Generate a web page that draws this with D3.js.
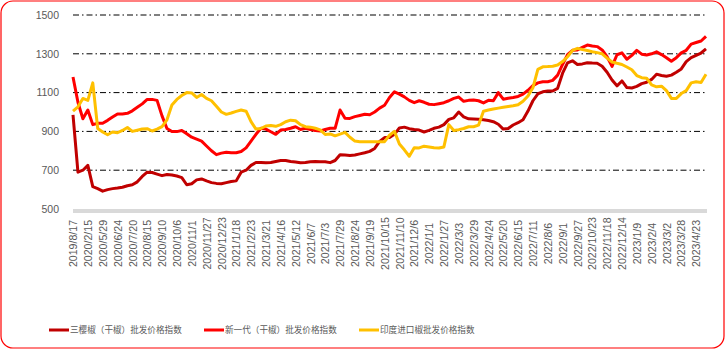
<!DOCTYPE html>
<html><head><meta charset="utf-8">
<script src="https://cdn.jsdelivr.net/npm/d3@7"></script>
<style>body{margin:0;background:#fff}svg{display:block}</style>
</head><body>
<svg id="c" width="726" height="350"></svg>
<script>
const tickLabels = ["2019/8/17","2020/2/15","2020/5/29","2020/6/24","2020/7/20","2020/8/15","2020/9/10","2020/10/6","2020/11/1","2020/11/27","2020/12/23","2021/1/18","2021/2/23","2021/3/21","2021/4/16","2021/5/12","2021/6/7","2021/7/3","2021/7/29","2021/8/24","2021/9/19","2021/10/15","2021/11/10","2021/12/6","2022/1/1","2022/1/27","2022/3/3","2022/3/29","2022/4/24","2022/5/20","2022/6/15","2022/7/11","2022/8/6","2022/9/1","2022/9/27","2022/10/23","2022/11/18","2022/12/14","2023/1/9","2023/2/4","2023/3/2","2023/3/28","2023/4/23"];
const pointsPerTick = 3;
const yTicks = [500,700,900,1100,1300,1500];
const seriesNames = ["三樱椒（干椒）批发价格指数","新一代（干椒）批发价格指数","印度进口椒批发价格指数"];
const seriesColors = ["#C00000","#FF0000","#FFC000"];

const sanying = [985,690,700,725,615,605,592,600,605,608,612,620,625,640,668,690,688,680,672,678,
675,670,662,625,630,650,655,645,636,632,630,636,642,645,690,700,725,740,740,738,
740,745,750,750,745,742,738,740,744,745,744,744,739,750,780,778,776,778,784,790,
797,812,848,868,868,885,918,922,914,910,907,897,905,916,922,935,962,970,1000,975,
965,964,963,960,956,950,937,912,915,933,945,960,1005,1058,1094,1104,1108,1108,1122,1200,
1253,1264,1245,1248,1254,1252,1251,1236,1205,1165,1135,1160,1126,1124,1132,1146,1153,1168,1195,1188,
1184,1190,1205,1222,1260,1280,1292,1304,1325];

const xinyidai = [1180,1050,965,1010,935,942,942,957,974,990,990,993,1006,1024,1042,1065,1065,1060,980,915,
899,899,905,888,870,860,850,825,800,780,788,793,790,790,796,815,850,885,916,912,
898,885,907,910,916,924,910,916,910,904,902,910,916,916,1010,968,967,976,982,988,
986,1000,1020,1035,1075,1104,1092,1078,1060,1048,1058,1050,1040,1038,1043,1048,1058,1070,1077,1055,
1060,1062,1058,1047,1060,1058,1100,1066,1071,1075,1080,1092,1112,1136,1150,1156,1156,1163,1190,1245,
1296,1318,1320,1333,1345,1340,1337,1320,1285,1235,1295,1305,1272,1292,1318,1298,1294,1300,1310,1296,
1280,1262,1280,1305,1318,1350,1358,1366,1390];

const yindu = [1005,1027,1070,1060,1150,915,897,883,897,893,905,920,900,906,912,914,902,912,925,960,
1036,1065,1085,1100,1098,1075,1090,1070,1058,1030,1000,988,995,1003,1010,1004,950,912,915,928,
930,926,935,950,958,955,935,924,922,916,908,884,887,877,886,895,870,850,847,847,
847,847,847,847,880,900,835,805,772,816,815,824,820,816,814,820,935,905,909,915,
924,924,932,1004,1010,1015,1020,1024,1028,1032,1037,1055,1082,1125,1220,1233,1234,1236,1242,1260,
1285,1318,1328,1322,1317,1311,1306,1300,1278,1258,1251,1245,1232,1218,1188,1177,1174,1140,1130,1133,
1110,1070,1070,1095,1110,1150,1156,1152,1195];

const svg = d3.select("#c");
// rounded border
svg.append("rect").attr("x",1).attr("y",1).attr("width",723).attr("height",347)
  .attr("rx",12).attr("ry",12).attr("fill","#fff").attr("stroke","#FF0000").attr("stroke-width",1.2);

const N = sanying.length;
const x = d3.scaleLinear().domain([0, N-1]).range([73, 706]);
const y = d3.scaleLinear().domain([500,1500]).range([209, 15]);
const plotL = 73, plotR = 707;

// gridlines
svg.append("g").selectAll("line").data(yTicks.filter(v=>v>500)).join("line")
  .attr("x1",plotL).attr("x2",plotR).attr("y1",d=>y(d)).attr("y2",d=>y(d))
  .attr("stroke","#000").attr("stroke-width",1).attr("stroke-dasharray","6,3,1.5,3");

// y axis labels
const yAxis = d3.axisLeft(y).tickValues(yTicks).tickSize(0).tickPadding(0).tickFormat(d3.format("d"));
const yg = svg.append("g").attr("transform",`translate(59,0)`).call(yAxis);
yg.select(".domain").remove();
yg.selectAll("text").attr("fill","#595959").attr("font-family","Liberation Sans, Arial, sans-serif").attr("font-size","10.5px");

// x axis band
svg.append("rect").attr("x",plotL).attr("y",209).attr("width",plotR-plotL).attr("height",4).attr("fill","#D9D9D9");

// x tick labels
const tickIdx = tickLabels.map((t,i)=>i*pointsPerTick);
const xAxis = d3.axisBottom(x).tickValues(tickIdx).tickSize(0).tickFormat((d,i)=>tickLabels[i]);
const xg = svg.append("g").attr("transform","translate(0,243.5)").call(xAxis);
xg.select(".domain").remove();
xg.selectAll("text").attr("fill","#595959").attr("font-family","Liberation Sans, Arial, sans-serif").attr("font-size","10.6px")
  .attr("text-anchor","middle").attr("dy","0.35em").attr("y",0)
  .attr("transform","rotate(-90)");

// lines
const line = d3.line().x((d,i)=>x(i)).y(d=>y(d)).curve(d3.curveLinear);
const allSeries = [sanying, xinyidai, yindu];
allSeries.forEach((s,k)=>{
  svg.append("path").datum(s).attr("d",line).attr("fill","none")
    .attr("stroke",seriesColors[k]).attr("stroke-width",3).attr("stroke-linejoin","round");
});

// legend
const legendX = [49, 204, 359];
const lg = svg.append("g");
seriesNames.forEach((n,k)=>{
  lg.append("line").attr("x1",legendX[k]).attr("x2",legendX[k]+20).attr("y1",330).attr("y2",330)
    .attr("stroke",seriesColors[k]).attr("stroke-width",3);
  lg.append("text").attr("x",legendX[k]+21).attr("y",330).attr("dy","0.35em")
    .attr("fill","#595959").attr("font-family","Noto Sans CJK SC, sans-serif").attr("font-size","8.6px").text(n);
});
</script>
</body></html>
